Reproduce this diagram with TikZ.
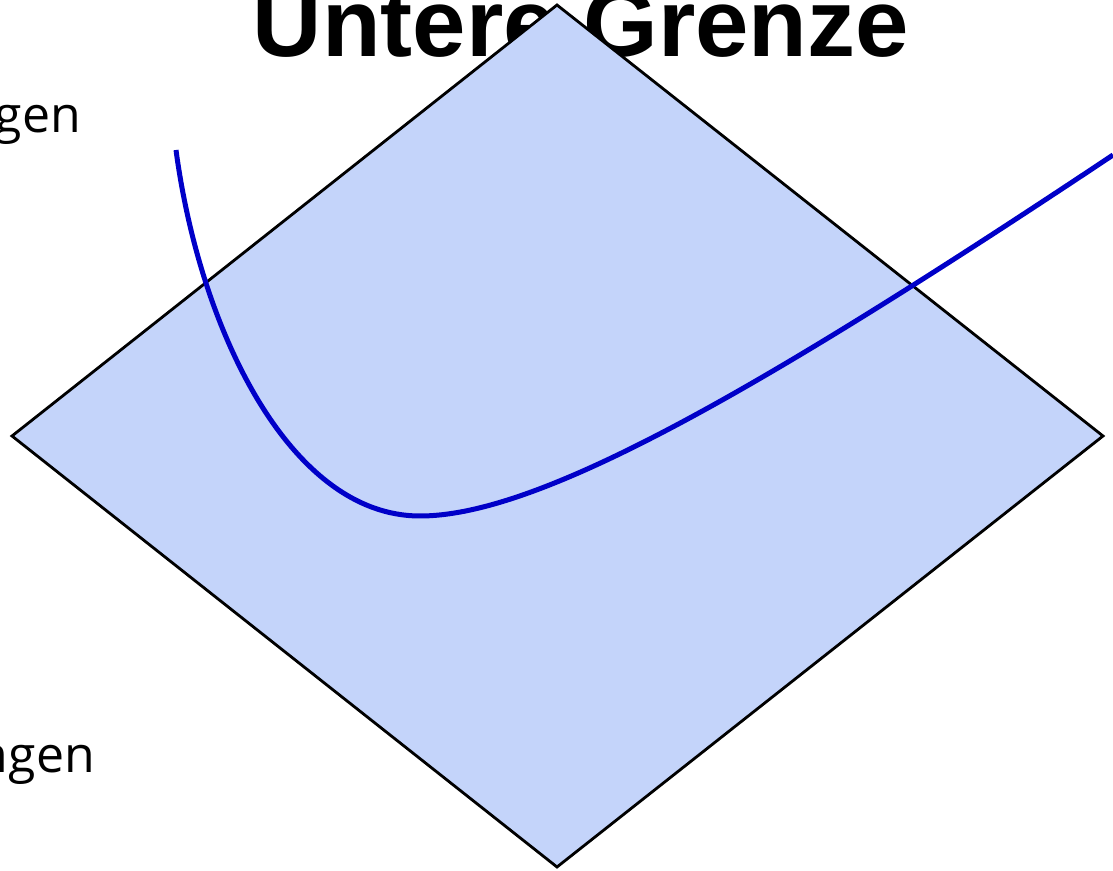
\documentclass[tikz,border=0pt]{standalone}
\usepackage{fontspec}
\setmainfont{Liberation Sans}
\newfontfamily\handfont{Open Sans}
\definecolor{planefill}{RGB}{196,212,250}
\definecolor{curveblue}{RGB}{0,0,200}
\tikzset{
  titletext/.style={font=\fontsize{96}{100}\selectfont\bfseries, inner sep=0pt, anchor=base},
  sidetext/.style={font=\handfont\fontsize{50}{54}\selectfont, inner sep=0pt, anchor=base east},
  plane/.style={draw=black, line width=2.8pt, fill=planefill, line join=miter},
  curve/.style={draw=curveblue, line width=5pt}
}
\begin{document}
\begin{tikzpicture}[x=1pt,y=1pt]
\useasboundingbox (0,0) rectangle (1113,870);
\node[titletext] (title) at (581,813) {Untere Grenze};
\node[sidetext] (upper) at (81,737) {gen};
\node[sidetext] (lower) at (95,98) {ngen};
\coordinate (top) at (557,865);
\coordinate (left) at (12,434);
\coordinate (bottom) at (557,3);
\coordinate (right) at (1103,434);
\path[plane] (top) -- (right) -- (bottom) -- (left) -- cycle;
\coordinate (cstart) at (176,720);
\coordinate (cmin) at (420,354);
\coordinate (cend) at (1113,715);
\draw[curve] (cstart) .. controls (200,540) and (290,354) .. (cmin)
  .. controls (540,354) and (760,480) .. (cend);
\end{tikzpicture}
\end{document}
